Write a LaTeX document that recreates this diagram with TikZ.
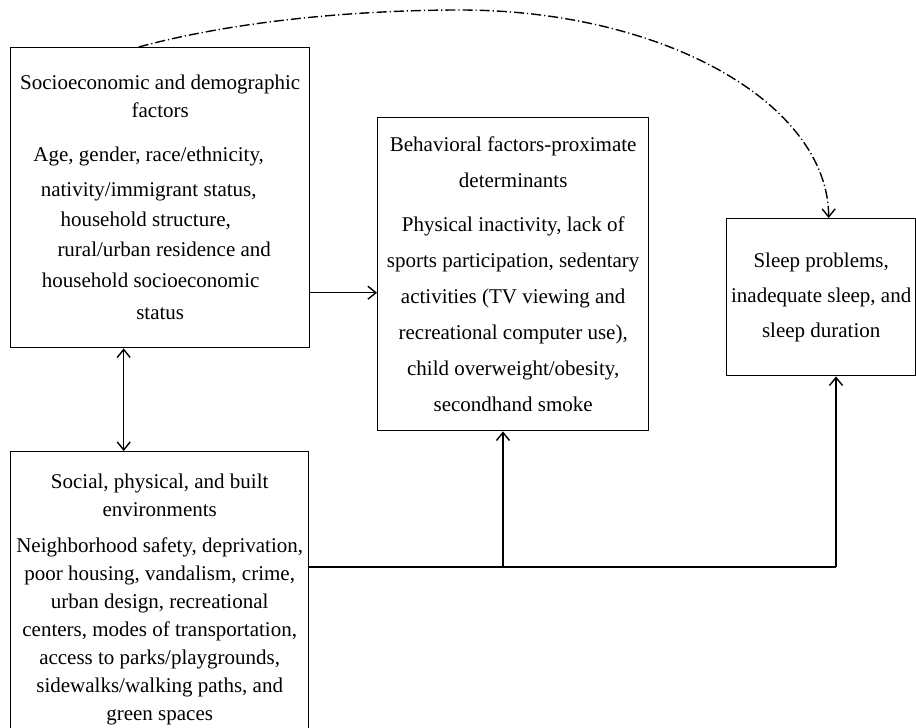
\documentclass[tikz,border=0pt]{standalone}
\usepackage{fontspec}
\setmainfont{Liberation Serif}
\usetikzlibrary{arrows.meta}

\tikzset{
  >={Straight Barb[length=4pt,width=6.5pt]},
  factor/.style={draw, line width=0.7pt, anchor=north west, inner sep=0pt,
    align=center, font=\fontsize{10.5}{14}\selectfont},
  link/.style={line width=0.7pt},
}

\begin{document}
\begin{tikzpicture}[x=0.5pt,y=-0.5pt]
  \useasboundingbox (0,0) rectangle (916,728);
  \node[factor, minimum width=149.5pt, minimum height=150pt] (socio) at (10,47)
    {Socioeconomic and demographic\\factors\\[8pt]
     Age, gender, race/ethnicity,\kern11.5pt\\[3.5pt]
     nativity/immigrant status,\kern11.5pt\\[1pt]
     household structure,\kern14.5pt\\[1pt]
     \kern4pt rural/urban residence and\\[1.5pt]
     household socioeconomic\kern9.5pt\\[2pt]
     status};
  \node[factor, minimum width=135.5pt, minimum height=156.5pt,
    font=\fontsize{10.5}{18}\selectfont] (behav) at (377,117)
    {Behavioral factors-proximate\\determinants\\[4pt]
     Physical inactivity, lack of\\sports participation, sedentary\\
     activities (TV viewing and\\recreational computer use),\\
     child overweight/obesity,\\secondhand smoke};
  \node[factor, minimum width=94.5pt, minimum height=78.5pt,
    font=\fontsize{10.5}{17.5}\selectfont] (sleep) at (726,218)
    {Sleep problems,\\inadequate sleep, and\\sleep duration};
  \node[factor, minimum width=149pt, minimum height=148pt] (social) at (10,451)
    {Social, physical, and built\\environments\\[4pt]
     Neighborhood safety, deprivation,\\poor housing, vandalism, crime,\\
     urban design, recreational\\centers, modes of transportation,\\
     access to parks/playgrounds,\\sidewalks/walking paths, and\\
     green spaces};

  \coordinate (s) at ([yshift=-47.5pt]socio.east);
  \coordinate (d) at ([xshift=-18.25pt]socio.south);
  \coordinate (e) at ([yshift=-58pt]social.north east);
  \coordinate (j1) at (503,567);
  \coordinate (j2) at (836,567);

  \draw[link,->] (s) -- (s -| behav.west);
  \draw[link,<->] (d) -- (d |- social.north);
  \draw[link] (e) -- (j2);
  \draw[link,->] (j1) -- (j1 |- behav.south);
  \draw[link,->] (j2) -- (j2 |- sleep.south);
  \draw[link,->,dash pattern=on 5pt off 1.5pt on 0.6pt off 1.5pt]
    ([xshift=-10.75pt]socio.north) .. controls (250,17) and (380,10) .. (460,10)
    .. controls (663,10) and (828,103) .. ([xshift=3.75pt]sleep.north);
\end{tikzpicture}
\end{document}
